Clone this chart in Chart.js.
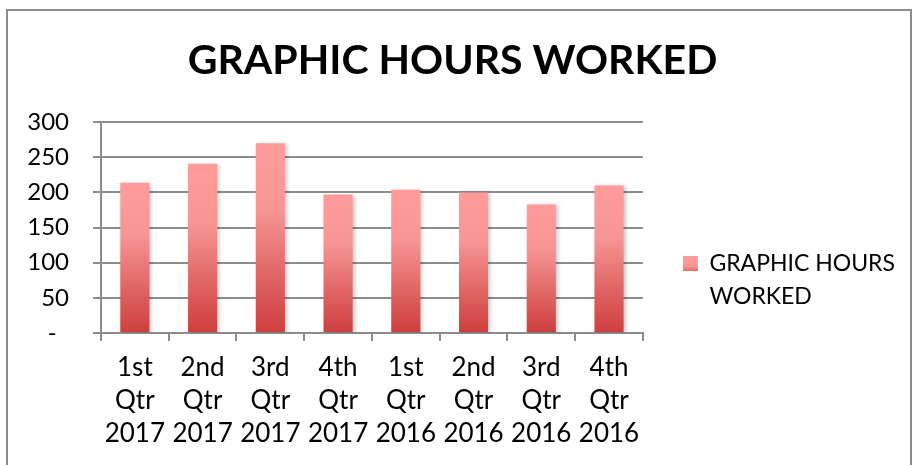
<!DOCTYPE html>
<html>
<head>
<meta charset="utf-8">
<title>Graphic Hours Worked</title>
<script src="https://cdn.jsdelivr.net/npm/chart.js@4.4.1/dist/chart.umd.min.js"></script>
<style>
    html, body { margin: 0; padding: 0; background: #fff; overflow: hidden; }
    #wrap { position: relative; width: 917px; height: 465px; }
    #frame {
        position: absolute; left: 6px; top: 9px; width: 906px; height: 500px;
        border: 2px solid #8c8c8c; box-sizing: border-box;
    }
    canvas { position: absolute; left: 0; top: 0; }
</style>
</head>
<body>
<div id="wrap">
    <div id="frame"></div>
    <canvas id="hoursChart" width="917" height="465"></canvas>
</div>
<script>
// Chart data
const quarterLabels = [
    ['1st', 'Qtr', '2017'], ['2nd', 'Qtr', '2017'], ['3rd', 'Qtr', '2017'], ['4th', 'Qtr', '2017'],
    ['1st', 'Qtr', '2016'], ['2nd', 'Qtr', '2016'], ['3rd', 'Qtr', '2016'], ['4th', 'Qtr', '2016']
];
const hoursWorked = [214, 241, 270, 197, 204, 200, 183, 210];
const seriesName = 'GRAPHIC HOURS WORKED';
const legendLines = ['GRAPHIC HOURS', 'WORKED'];
const yTicks = [0, 50, 100, 150, 200, 250, 300];

const FONT = 'Lato';
const GRID = '#8c8c8c';
const LEGEND_PAD = 40;       // gap between plot and legend swatch
const LEGEND_ITEM_TOP = 252; // top of the legend item block

/**
 * Vertical gradient, light pink at the top to red at the base
 */
function redGradient(ctx, top, bottom) {
    const g = ctx.createLinearGradient(0, top, 0, bottom);
    g.addColorStop(0, '#ff9b9b');
    g.addColorStop(0.35, '#f79595');
    g.addColorStop(0.7, '#e06565');
    g.addColorStop(1, '#cf3e3e');
    return g;
}

function barGradient(context) {
    const chart = context.chart;
    const yScale = chart.scales.y;
    if (!chart.chartArea || !yScale) return '#ee7777';
    const top = yScale.getPixelForValue(context.raw);
    const bottom = yScale.getPixelForValue(0);
    if (!isFinite(top) || !isFinite(bottom) || top === bottom) return '#ee7777';
    return redGradient(chart.ctx, top, bottom);
}

// soft shadow behind the bars
const barShadow = {
    id: 'barShadow',
    beforeDatasetsDraw(chart) {
        const ctx = chart.ctx;
        ctx.save();
        ctx.shadowColor = 'rgba(0,0,0,0.22)';
        ctx.shadowBlur = 4;
        ctx.shadowOffsetX = 2;
        ctx.shadowOffsetY = 1;
    },
    afterDatasetsDraw(chart) {
        chart.ctx.restore();
    }
};

// move the legend block down to sit level with the lower half of the plot
const legendShift = {
    id: 'legendShift',
    afterLayout(chart) {
        const lg = chart.legend;
        if (!lg) return;
        const h = lg.bottom - lg.top;
        lg.top = LEGEND_ITEM_TOP - LEGEND_PAD;
        lg.bottom = lg.top + h;
    }
};

function initChart() {
    const ctx = document.getElementById('hoursChart').getContext('2d');

    new Chart(ctx, {
        type: 'bar',
        data: {
            labels: quarterLabels,
            datasets: [{
                label: seriesName,
                data: hoursWorked,
                backgroundColor: barGradient,
                borderWidth: 0,
                barPercentage: 0.86,
                categoryPercentage: 0.5
            }]
        },
        plugins: [barShadow, legendShift],
        options: {
            responsive: false,
            animation: false,
            layout: { padding: { left: 0, right: 12, top: 0, bottom: 5 } },
            plugins: {
                tooltip: { enabled: false },
                title: {
                    display: true,
                    text: seriesName,
                    color: '#000',
                    font: { family: FONT, size: 41, weight: 'bold', lineHeight: 1.2 },
                    padding: { top: 36, bottom: 37 }
                },
                legend: {
                    position: 'right',
                    align: 'start',
                    fullSize: false,
                    maxWidth: 320,
                    labels: {
                        color: '#000',
                        font: { family: FONT, size: 23, lineHeight: 33 / 23 },
                        boxWidth: 15,
                        boxHeight: 15,
                        padding: LEGEND_PAD,
                        generateLabels: chart => {
                            const top = (chart.legend ? chart.legend.top : 0) + LEGEND_PAD + 9;
                            const fill = redGradient(chart.ctx, top, top + 15);
                            return [{
                                text: legendLines,
                                fillStyle: fill,
                                strokeStyle: 'rgba(0,0,0,0)',
                                lineWidth: 0,
                                datasetIndex: 0
                            }];
                        }
                    }
                }
            },
            scales: {
                x: {
                    grid: {
                        display: true,
                        drawOnChartArea: false,
                        drawTicks: true,
                        tickLength: 8,
                        color: GRID,
                        lineWidth: 2
                    },
                    border: { display: true, color: GRID, width: 2 },
                    ticks: {
                        color: '#000',
                        autoSkip: false,
                        maxRotation: 0,
                        padding: 10,
                        font: { family: FONT, size: 26, lineHeight: 33 / 26 }
                    }
                },
                y: {
                    min: 0,
                    max: 300,
                    afterFit: s => { s.width = 101; },
                    afterBuildTicks: s => { s.ticks = yTicks.map(v => ({ value: v })); },
                    grid: { color: GRID, lineWidth: 2, tickLength: 8 },
                    border: { display: true, color: GRID, width: 2 },
                    ticks: {
                        color: '#000',
                        padding: 24,
                        font: { family: FONT, size: 24 },
                        callback: v => v === 0 ? '-  ' : v
                    }
                }
            }
        }
    });
}

initChart();
</script>
</body>
</html>
